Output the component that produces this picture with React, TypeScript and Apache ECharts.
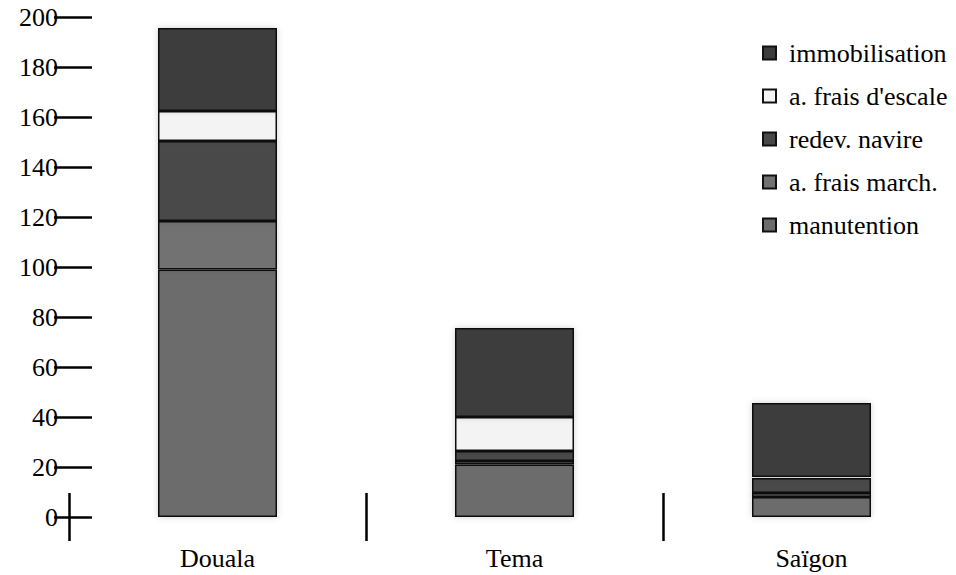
import React, { useEffect, useRef } from "react";
import * as echarts from "echarts";

const categories = ["Douala", "Tema", "Saïgon"];
const manutention = [99, 21, 8];
const fraisMarch = [19.4, 1.4, 1.6];
const redevNavire = [32, 4, 6];
const fraisEscale = [12, 13.6, 0.4];
const immobilisation = [33.2, 35.6, 29.6];
const yTicks = [0, 20, 40, 60, 80, 100, 120, 140, 160, 180, 200];

const FONT = '"Liberation Serif", "Times New Roman", serif';

export default function App() {
  const ref = useRef<HTMLDivElement>(null);
  useEffect(() => {
    if (!ref.current) return;
    const chart = echarts.init(ref.current, undefined, { renderer: "svg" });
    const mk = (name: string, data: number[], color: string) => ({
      name,
      type: "bar",
      stack: "total",
      data,
      barWidth: 119,
      itemStyle: {
        color,
        borderColor: "#111",
        borderWidth: 1.5,
        shadowColor: "rgba(0,0,0,0.18)",
        shadowBlur: 6,
      },
    });
    chart.setOption({
      animation: false,
      backgroundColor: "#ffffff",
      textStyle: { fontFamily: FONT },
      grid: { left: 69, right: 0, top: 17, bottom: 58, containLabel: false },
      legend: {
        orient: "vertical",
        left: 757,
        top: 35,
        icon: "rect",
        itemWidth: 13,
        itemHeight: 13,
        itemGap: 17,
        selectedMode: false,
        data: [
          "immobilisation",
          "a. frais d'escale",
          "redev. navire",
          "a. frais march.",
          "manutention",
        ],
        textStyle: {
          fontFamily: FONT,
          fontSize: 26,
          color: "#000",
          padding: [0, 0, 0, 8],
        },
      },
      xAxis: {
        type: "category",
        data: categories,
        offset: -24,
        axisLine: { show: false },
        axisTick: {
          show: true,
          inside: false,
          length: 48,
          lineStyle: { color: "#000", width: 2.5 },
        },
        axisLabel: {
          margin: 52,
          fontFamily: FONT,
          fontSize: 26,
          color: "#000",
        },
        splitLine: { show: false },
      },
      yAxis: {
        type: "value",
        min: yTicks[0],
        max: yTicks[yTicks.length - 1],
        interval: 20,
        offset: 15,
        axisLine: { show: false },
        axisTick: {
          show: true,
          inside: true,
          length: 38,
          lineStyle: { color: "#000", width: 2.5 },
        },
        axisLabel: {
          margin: -4,
          fontFamily: FONT,
          fontSize: 26,
          color: "#000",
        },
        splitLine: { show: false },
      },
      series: [
        mk("manutention", manutention, "#6c6c6c"),
        mk("a. frais march.", fraisMarch, "#727272"),
        mk("redev. navire", redevNavire, "#484848"),
        mk("a. frais d'escale", fraisEscale, "#f3f3f3"),
        mk("immobilisation", immobilisation, "#3c3c3c"),
      ],
    });
    return () => chart.dispose();
  }, []);
  return (
    <div
      style={{
        position: "absolute",
        left: 0,
        top: 0,
        width: 956,
        height: 575,
        overflow: "hidden",
        background: "#fff",
      }}
    >
      <div ref={ref} style={{ width: 960, height: 575 }} />
    </div>
  );
}
